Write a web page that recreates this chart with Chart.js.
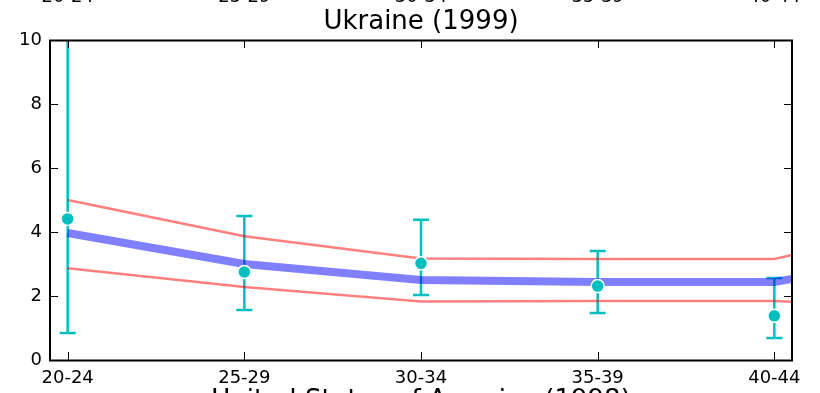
<!DOCTYPE html>
<html>
<head>
<meta charset="utf-8">
<script src="https://cdn.jsdelivr.net/npm/chart.js@4"></script>
<style>
  html, body { margin: 0; padding: 0; background: #fff; }
  #wrap { width: 820px; height: 393px; }
</style>
</head>
<body>
<div id="wrap"><canvas id="chart" width="820" height="393"></canvas></div>
<script>
const ageGroups = ["20-24", "25-29", "30-34", "35-39", "40-44"];
const yTicks = [0, 2, 4, 6, 8, 10];

// observed rates with error bars
const observed = [4.41, 2.75, 3.02, 2.31, 1.38];
const errLow   = [0.84, 1.56, 2.03, 1.47, 0.69];
const errHigh  = [10.6, 4.50, 4.38, 3.41, 2.56];

// model fit and band, last value sits on the right edge of the axes
const fitX     = [0, 1, 2, 3, 4, 4.1];
const fitMid   = [3.97, 3.00, 2.50, 2.44, 2.44, 2.53];
const fitUpper = [5.00, 3.87, 3.17, 3.16, 3.16, 3.28];
const fitLower = [2.87, 2.28, 1.83, 1.84, 1.84, 1.82];

const titleText = "Ukraine (1999)";
const nextTitle = "United States of America (1998)";

const FONT = "'DejaVu Sans', sans-serif";
const CYAN = "#00BFBF";

const pts = (xs, ys) => xs.map((x, i) => ({ x, y: ys[i] }));

// frame, inward ticks, error bars and the neighbour panel fragments
const decor = {
  id: "decor",
  beforeDatasetsDraw(chart) {
    const { ctx, chartArea: a, scales: { x, y } } = chart;
    ctx.save();
    ctx.beginPath();
    ctx.rect(a.left, a.top, a.right - a.left, a.bottom - a.top);
    ctx.clip();
    ctx.strokeStyle = CYAN;
    ctx.lineWidth = 2.5;
    observed.forEach((_, i) => {
      const px = x.getPixelForValue(i);
      const y0 = y.getPixelForValue(errLow[i]);
      const y1 = y.getPixelForValue(errHigh[i]);
      ctx.beginPath();
      ctx.moveTo(px, y0); ctx.lineTo(px, y1);
      ctx.moveTo(px - 8, y0); ctx.lineTo(px + 8, y0);
      ctx.moveTo(px - 8, y1); ctx.lineTo(px + 8, y1);
      ctx.stroke();
    });
    ctx.restore();
  },
  afterDraw(chart) {
    const { ctx, chartArea: a, scales: { x, y } } = chart;
    ctx.save();
    ctx.strokeStyle = "#000";
    ctx.lineWidth = 1;
    ctx.beginPath();
    ageGroups.forEach((_, i) => {
      const px = Math.round(x.getPixelForValue(i)) + 0.5;
      ctx.moveTo(px, a.bottom); ctx.lineTo(px, a.bottom - 8);
      ctx.moveTo(px, a.top); ctx.lineTo(px, a.top + 8);
    });
    yTicks.forEach((v) => {
      const py = Math.round(y.getPixelForValue(v)) + 0.5;
      ctx.moveTo(a.left, py); ctx.lineTo(a.left + 8, py);
      ctx.moveTo(a.right, py); ctx.lineTo(a.right - 8, py);
    });
    ctx.stroke();
    ctx.lineWidth = 2;
    ctx.strokeRect(a.left, a.top + 0.5, a.right - a.left, a.bottom - a.top);

    ctx.fillStyle = "#000";
    ctx.textAlign = "center";
    ctx.textBaseline = "alphabetic";
    const mid = (a.left + a.right) / 2;
    ctx.font = `26px ${FONT}`;
    ctx.fillText(titleText, mid, 29);
    ctx.fillText(nextTitle, mid, 408);
    ctx.font = `18px ${FONT}`;
    ageGroups.forEach((g, i) => ctx.fillText(g, x.getPixelForValue(i), 2));
    ctx.restore();
  },
};

const lineSet = (ys, color, width) => ({
  data: pts(fitX, ys),
  borderColor: color,
  borderWidth: width,
  pointRadius: 0,
  tension: 0,
  clip: 0,
});

new Chart(document.getElementById("chart"), {
  type: "line",
  data: {
    datasets: [
      {
        data: pts(ageGroups.map((_, i) => i), observed),
        showLine: false,
        pointRadius: 6.5,
        pointBackgroundColor: CYAN,
        pointBorderColor: "#fff",
        pointBorderWidth: 1.5,
      },
      lineSet(fitMid, "rgba(0,0,255,0.5)", 8),
      lineSet(fitUpper, "rgba(255,0,0,0.5)", 2.5),
      lineSet(fitLower, "rgba(255,0,0,0.5)", 2.5),
    ],
  },
  options: {
    responsive: false,
    animation: false,
    events: [],
    layout: { padding: { top: 40, right: 28, left: 0, bottom: 0 } },
    scales: {
      x: {
        type: "linear",
        min: -0.1,
        max: 4.1,
        afterBuildTicks: (s) => { s.ticks = ageGroups.map((_, i) => ({ value: i })); },
        afterFit: (s) => { s.height = 33; },
        grid: { display: false, drawTicks: false },
        border: { display: false },
        ticks: {
          padding: 8,
          color: "#000",
          font: { family: FONT, size: 18 },
          maxRotation: 0,
          autoSkip: false,
          callback: (v) => ageGroups[v] ?? "",
        },
      },
      y: {
        min: 0,
        max: 10,
        afterBuildTicks: (s) => { s.ticks = yTicks.map((v) => ({ value: v })); },
        afterFit: (s) => { s.width = 50; },
        grid: { display: false, drawTicks: false },
        border: { display: false },
        ticks: {
          padding: 8,
          color: "#000",
          font: { family: FONT, size: 18 },
        },
      },
    },
    plugins: {
      legend: { display: false },
      tooltip: { enabled: false },
      title: { display: false },
    },
  },
  plugins: [decor],
});
</script>
</body>
</html>
